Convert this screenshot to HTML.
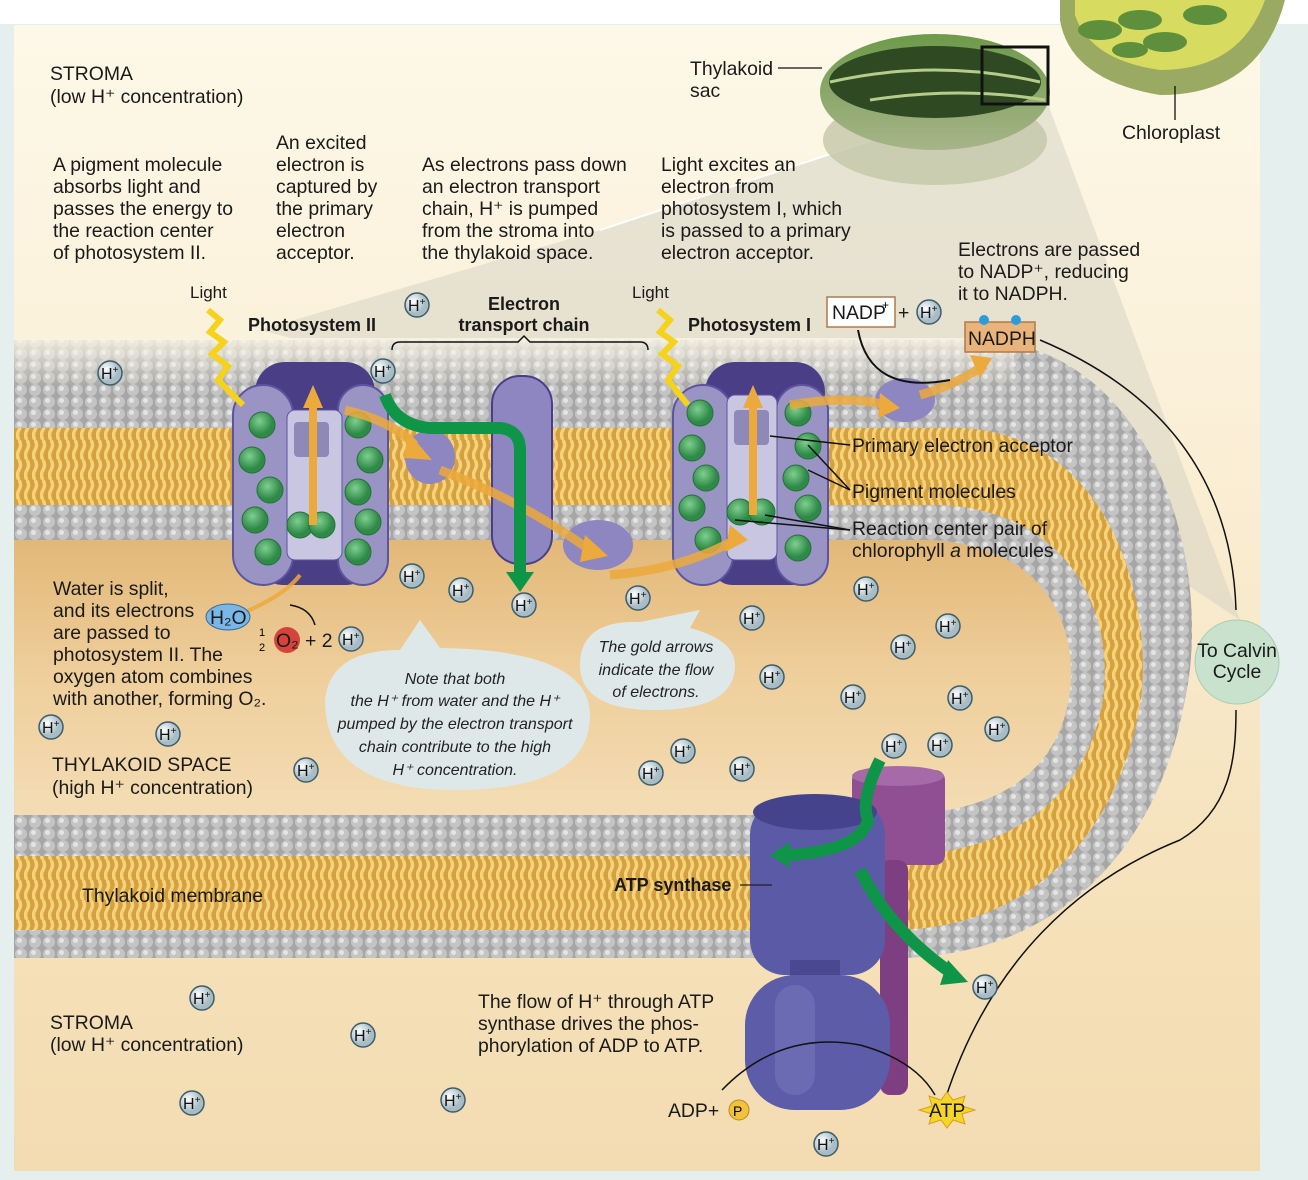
<!DOCTYPE html>
<html><head><meta charset="utf-8"><style>
html,body{margin:0;padding:0;background:#e4efee;}
svg{display:block;font-family:"Liberation Sans",sans-serif;}
.t{font-size:19.4px;fill:#1a1a1a;}
.b{font-weight:bold;font-size:18px;fill:#1a1a1a;}
.i{font-style:italic;font-size:16px;fill:#222;}
</style></head><body>
<svg id="s" width="1308" height="1180" viewBox="0 0 1308 1180">
<defs>
<linearGradient id="bg" x1="0" y1="0" x2="0" y2="1"><stop offset="0" stop-color="#fdf8e8"/><stop offset="0.3" stop-color="#fbf1da"/><stop offset="0.8" stop-color="#f5e0b8"/><stop offset="1" stop-color="#f3dcb2"/></linearGradient>
<linearGradient id="lum" x1="0" y1="0" x2="0" y2="1"><stop offset="0" stop-color="#e2b878"/><stop offset="0.5" stop-color="#efcf9c"/><stop offset="1" stop-color="#f3dcb4"/></linearGradient>
<linearGradient id="topfade" x1="0" y1="0" x2="0" y2="1"><stop offset="0" stop-color="#f8f3e4" stop-opacity="0.85"/><stop offset="1" stop-color="#f8f3e4" stop-opacity="0"/></linearGradient>
<pattern id="heads" width="14" height="12" patternUnits="userSpaceOnUse"><rect width="14" height="12" fill="#a6a6a6"/><circle cx="7" cy="6" r="6" fill="#c4c4c4"/><circle cx="5.5" cy="4.5" r="2.5" fill="#e4e4e4"/></pattern>
<pattern id="tails" width="8" height="20" patternUnits="userSpaceOnUse"><rect width="8" height="20" fill="#d4a040"/><path d="M3,0 q3,5 0,10 q-3,5 0,10" stroke="#f6d27a" stroke-width="3.5" fill="none"/></pattern>
<radialGradient id="hg" cx="0.35" cy="0.35"><stop offset="0" stop-color="#ffffff"/><stop offset="1" stop-color="#a7bcc4"/></radialGradient>
<radialGradient id="gg" cx="0.4" cy="0.35"><stop offset="0" stop-color="#7fcf8f"/><stop offset="1" stop-color="#2f8a48"/></radialGradient>
<linearGradient id="chl" x1="0" y1="0" x2="0" y2="1"><stop offset="0" stop-color="#6d9a4a"/><stop offset="1" stop-color="#a7b48a"/></linearGradient>
</defs>
<rect width="1308" height="1180" fill="#e4efee"/>
<rect x="0" y="0" width="1308" height="24" fill="#ffffff"/>
<rect x="14" y="25" width="1246" height="1146" fill="url(#bg)"/>

<polygon points="982,104 1048,104 1240,620 1150,560 260,330 600,230" fill="#cfcfc0" opacity="0.45"/>
<line x1="982" y1="104" x2="600" y2="230" stroke="#fff" stroke-width="2"/>

<g>
<ellipse cx="935" cy="140" rx="112" ry="45" fill="#c3c7a8" opacity="0.8"/>
<ellipse cx="935" cy="92" rx="115" ry="58" fill="url(#chl)"/>
<ellipse cx="935" cy="82" rx="106" ry="36" fill="#2f4a22"/>
<path d="M830,82 Q935,58 1040,82" stroke="#b6cc8a" stroke-width="3" fill="none"/>
<path d="M870,100 Q960,86 1045,100" stroke="#b6cc8a" stroke-width="3" fill="none"/>
<rect x="982" y="47" width="66" height="57" fill="none" stroke="#111" stroke-width="3"/>
</g>
<g>
<path d="M1060,20 Q1070,80 1160,95 Q1260,95 1285,0 L1060,0 Z" fill="#9aaa62"/>
<path d="M1075,15 Q1090,60 1160,70 Q1240,70 1265,0 L1075,0 Z" fill="#d7dc60"/>
<ellipse cx="1100" cy="30" rx="22" ry="10" fill="#5e8f3c"/><ellipse cx="1140" cy="20" rx="22" ry="10" fill="#5e8f3c"/><ellipse cx="1165" cy="42" rx="22" ry="10" fill="#5e8f3c"/><ellipse cx="1205" cy="15" rx="22" ry="10" fill="#5e8f3c"/><ellipse cx="1130" cy="50" rx="18" ry="8" fill="#5e8f3c"/>
<line x1="1175" y1="86" x2="1175" y2="120" stroke="#111" stroke-width="1.3"/>
</g>
<line x1="778" y1="68" x2="822" y2="68" stroke="#111" stroke-width="1.3"/>

<g>
<path d="M14,340 L980,340 C1150,345 1215,560 1185,700 C1155,860 1050,955 900,958 L14,958 Z" fill="url(#heads)"/>
<path d="M14,428 L960,428 C1100,433 1150,580 1142,690 C1128,810 1050,925 900,930 L14,930 Z" fill="url(#tails)"/>
<path d="M14,505 L940,505 C1060,510 1112,600 1104,690 C1094,780 1030,852 900,856 L14,856 Z" fill="url(#heads)"/>
<path d="M14,540 L930,540 C1040,545 1078,620 1070,690 C1062,762 1010,812 900,815 L14,815 Z" fill="url(#lum)"/>
<rect x="14" y="338" width="1000" height="50" fill="url(#topfade)"/>
<rect x="14" y="790" width="900" height="25" fill="#f3dcb4" opacity="0.5"/>
</g>

<g>
<rect x="255" y="362" width="120" height="60" rx="30" fill="#4a3f86"/>
<rect x="262" y="535" width="105" height="50" rx="20" fill="#4a3f86"/>
<rect x="233" y="385" width="60" height="200" rx="30" fill="#9a94c4" stroke="#5d54a0" stroke-width="2"/>
<rect x="338" y="385" width="50" height="200" rx="25" fill="#9a94c4" stroke="#5d54a0" stroke-width="2"/>
<rect x="287" y="410" width="55" height="150" rx="8" fill="#c8c6e0" stroke="#5d54a0"/>
<rect x="294" y="422" width="35" height="35" rx="4" fill="#8e89b8"/>
</g>
<g>
<ellipse cx="430" cy="457" rx="25" ry="27" fill="#8d86c0"/>
<rect x="492" y="376" width="60" height="188" rx="28" fill="#8d86c0" stroke="#4a3f86" stroke-width="2"/>
<ellipse cx="598" cy="545" rx="35" ry="25" fill="#8d86c0"/>
<ellipse cx="905" cy="400" rx="30" ry="22" fill="#8d86c0"/>
</g>
<g>
<rect x="705" y="362" width="120" height="60" rx="30" fill="#4a3f86"/>
<rect x="712" y="535" width="105" height="50" rx="20" fill="#4a3f86"/>
<rect x="673" y="385" width="60" height="200" rx="30" fill="#9a94c4" stroke="#5d54a0" stroke-width="2"/>
<rect x="776" y="385" width="52" height="200" rx="26" fill="#9a94c4" stroke="#5d54a0" stroke-width="2"/>
<rect x="727" y="395" width="50" height="165" rx="8" fill="#c8c6e0" stroke="#5d54a0"/>
<rect x="734" y="410" width="35" height="35" rx="4" fill="#8e89b8"/>
</g>
<g id="pig"></g>

<g>
<rect x="852" y="770" width="93" height="95" rx="10" fill="#8f4f92"/>
<ellipse cx="898" cy="776" rx="46" ry="10" fill="#a66aa8"/>
<rect x="880" y="860" width="28" height="235" rx="10" fill="#7e3f82"/>
<rect x="750" y="800" width="135" height="175" rx="35" fill="#5a5aa6"/>
<ellipse cx="815" cy="812" rx="62" ry="18" fill="#45438c"/>
<rect x="790" y="960" width="50" height="30" fill="#4a4890"/>
<rect x="745" y="975" width="145" height="135" rx="50" fill="#5c5ca8"/>
<rect x="775" y="985" width="40" height="110" rx="20" fill="#7474bb" opacity="0.6"/>
</g>
<line x1="740" y1="885" x2="772" y2="885" stroke="#222" stroke-width="1.2"/>

<g fill="none" stroke="#eca93c" stroke-width="9" opacity="0.85">
<path d="M345,410 Q390,420 415,445"/>
<path d="M440,470 Q520,500 590,550"/>
<path d="M610,575 Q680,570 735,540"/>
<path d="M790,405 Q850,395 885,405"/>
<path d="M920,395 Q955,385 985,365"/>
<path d="M245,612 Q285,595 300,575" stroke-width="4"/>
</g>
<g fill="#eca93c">
<polygon points="408,432 432,460 404,458"/><polygon points="585,535 608,556 580,562"/><polygon points="730,525 748,540 725,552"/><polygon points="880,393 900,408 878,418"/><polygon points="970,355 992,358 980,378"/>
<polygon points="303,408 323,408 313,385"/><polygon points="743,408 763,408 753,385"/>
<rect x="309" y="405" width="8" height="120"/><rect x="749" y="405" width="8" height="110"/>
</g>
<g fill="none" stroke="#f5d21c" stroke-width="6">
<path d="M208,310 l12,10 l-10,12 l14,10 l-12,12 l16,12 l-10,14 l25,25"/>
<path d="M658,310 l12,10 l-10,12 l14,10 l-12,12 l16,12 l-10,14 l20,25"/>
</g>
<g fill="none" stroke="#0f9548" stroke-width="12">
<path d="M385,395 Q395,425 430,428 L500,428 Q520,430 520,450 L520,575"/>
<path d="M880,760 Q860,800 868,820 Q860,850 790,855"/>
<path d="M860,870 Q890,930 950,972"/>
</g>
<g fill="#0f9548"><polygon points="506,572 534,572 520,592"/><polygon points="790,842 790,868 770,855"/><polygon points="948,960 968,982 940,985"/></g>

<g><rect x="827" y="297" width="68" height="30" fill="#fff" stroke="#b07a4a" stroke-width="1.5"/><text x="832" y="319" class="t" font-size="18">NADP</text><text x="882" y="309" font-size="12">+</text><text x="898" y="319" class="t">+</text></g>
<g><rect x="965" y="322" width="70" height="30" fill="#e8b47c" stroke="#b07a4a" stroke-width="1.5"/><text x="968" y="345" class="t" font-size="18">NADPH</text><circle cx="984" cy="320" r="5" fill="#2b9be0"/><circle cx="1016" cy="320" r="5" fill="#2b9be0"/></g>
<path d="M858,330 Q870,395 950,380" fill="none" stroke="#111" stroke-width="2"/>
<g fill="none" stroke="#111" stroke-width="1.5">
<path d="M1040,340 Q1230,420 1236,610"/>
<path d="M945,1100 C990,960 1080,880 1180,840 C1230,810 1236,760 1236,710"/>
<path d="M722,1090 Q780,1030 860,1045 Q915,1060 935,1095"/>
<line x1="770" y1="436" x2="850" y2="445"/><line x1="808" y1="445" x2="850" y2="490"/><line x1="808" y1="470" x2="850" y2="490"/><line x1="765" y1="515" x2="850" y2="530"/><line x1="735" y1="520" x2="850" y2="530"/>
<path d="M392,350 Q392,342 400,342 L518,342 L524,336 L530,342 L640,342 Q648,342 648,350"/>
</g>
<circle cx="1237" cy="662" r="42" fill="#c9e2cd" stroke="#a9cdb2"/>
<text x="1237" y="657" class="t" text-anchor="middle" font-size="17">To Calvin</text>
<text x="1237" y="678" class="t" text-anchor="middle" font-size="17">Cycle</text>

<ellipse cx="228" cy="617" rx="22" ry="13" fill="#7ab7e6" stroke="#2d6aa0"/><text x="210" y="624" class="t">H₂O</text>
<circle cx="287" cy="640" r="13" fill="#d5443a"/><text x="276" y="647" class="t" font-size="17">O₂</text>
<text x="259" y="636" font-size="11">1</text><text x="259" y="651" font-size="11">2</text><text x="305" y="647" class="t" font-size="17">+ 2</text>
<path d="M290,605 Q310,608 315,625" fill="none" stroke="#111" stroke-width="1.5"/>

<path d="M325,700 Q330,650 400,650 L420,620 L440,648 Q590,650 590,715 Q590,790 455,790 Q325,790 325,700 Z" fill="#dfe8e8"/>
<path d="M580,665 Q580,620 640,622 L700,610 L690,628 Q735,640 735,665 Q735,710 655,710 Q580,710 580,665 Z" fill="#dfe8e8"/>
<g text-anchor="middle">
<text x="455" y="684" class="i">Note that both</text><text x="455" y="706" class="i">the H⁺ from water and the H⁺</text><text x="455" y="729" class="i">pumped by the electron transport</text><text x="455" y="752" class="i">chain contribute to the high</text><text x="455" y="775" class="i">H⁺ concentration.</text>
<text x="656" y="652" class="i">The gold arrows</text><text x="656" y="675" class="i">indicate the flow</text><text x="656" y="697" class="i">of electrons.</text>
</g>
<text x="668" y="1117" class="t" font-size="18">ADP+</text><circle cx="739" cy="1110" r="10" fill="#f2c23c" stroke="#b58a1c"/><text x="733" y="1116" font-size="14">P</text>
<polygon points="947,1092 953,1100 965,1096 962,1106 975,1110 962,1114 965,1124 953,1120 947,1128 941,1120 929,1124 932,1114 919,1110 932,1106 929,1096 941,1100" fill="#f5d528" stroke="#d6a01c"/>
<text x="929" y="1117" class="t" font-size="17">ATP</text>

<g id="ions"></g>

<g class="t">
<text x="50" y="80">STROMA</text><text x="50" y="103">(low H⁺ concentration)</text>
<text x="690" y="75">Thylakoid</text><text x="690" y="97">sac</text>
<text x="1122" y="139">Chloroplast</text>
<text x="53" y="171">A pigment molecule</text><text x="53" y="193">absorbs light and</text><text x="53" y="215">passes the energy to</text><text x="53" y="237">the reaction center</text><text x="53" y="259">of photosystem II.</text>
<text x="276" y="149">An excited</text><text x="276" y="171">electron is</text><text x="276" y="193">captured by</text><text x="276" y="215">the primary</text><text x="276" y="237">electron</text><text x="276" y="259">acceptor.</text>
<text x="422" y="171">As electrons pass down</text><text x="422" y="193">an electron transport</text><text x="422" y="215">chain, H⁺ is pumped</text><text x="422" y="237">from the stroma into</text><text x="422" y="259">the thylakoid space.</text>
<text x="661" y="171">Light excites an</text><text x="661" y="193">electron from</text><text x="661" y="215">photosystem I, which</text><text x="661" y="237">is passed to a primary</text><text x="661" y="259">electron acceptor.</text>
<text x="958" y="256">Electrons are passed</text><text x="958" y="278">to NADP⁺, reducing</text><text x="958" y="300">it to NADPH.</text>
<text x="190" y="298" font-size="17">Light</text><text x="632" y="298" font-size="17">Light</text>
<text x="852" y="452">Primary electron acceptor</text><text x="852" y="498">Pigment molecules</text><text x="852" y="535">Reaction center pair of</text><text x="852" y="557">chlorophyll <tspan font-style="italic">a</tspan> molecules</text>
<text x="53" y="595">Water is split,</text><text x="53" y="617">and its electrons</text><text x="53" y="639">are passed to</text><text x="53" y="661">photosystem II. The</text><text x="53" y="683">oxygen atom combines</text><text x="53" y="705">with another, forming O₂.</text>
<text x="52" y="771">THYLAKOID SPACE</text><text x="52" y="794">(high H⁺ concentration)</text>
<text x="82" y="902">Thylakoid membrane</text>
<text x="50" y="1029">STROMA</text><text x="50" y="1051">(low H⁺ concentration)</text>
<text x="478" y="1008">The flow of H⁺ through ATP</text><text x="478" y="1030">synthase drives the phos-</text><text x="478" y="1052">phorylation of ADP to ATP.</text>
</g>
<text x="248" y="331" class="b">Photosystem II</text>
<text x="524" y="310" class="b" text-anchor="middle">Electron</text><text x="524" y="331" class="b" text-anchor="middle">transport chain</text>
<text x="688" y="331" class="b">Photosystem I</text>
<text x="614" y="891" class="b">ATP synthase</text>
</svg>
<script>
const ns="http://www.w3.org/2000/svg";
const ionX=[110,417,383,412,461,524,638,752,866,948,903,772,853,960,997,940,894,683,651,742,51,168,306,351,929,202,363,192,453,985,826];
const ionY=[373,305,371,576,590,605,598,618,589,626,647,677,697,698,729,745,746,751,773,769,727,734,770,639,312,998,1035,1103,1100,987,1144];
const g=document.getElementById('ions');
for(let k=0;k<ionX.length;k++){
 const c=document.createElementNS(ns,'circle');c.setAttribute('cx',ionX[k]);c.setAttribute('cy',ionY[k]);c.setAttribute('r',12);
 c.setAttribute('fill','url(#hg)');c.setAttribute('stroke','#3d5d6a');c.setAttribute('stroke-width','1.5');
 
 
 g.appendChild(c);
 const t=document.createElementNS(ns,'text');t.setAttribute('x',ionX[k]-9);t.setAttribute('y',ionY[k]+6);t.setAttribute('font-size','16');t.setAttribute('fill','#111');
 t.innerHTML='H<tspan font-size="10" dy="-6">+</tspan>';
 
 
 g.appendChild(t);
}
const pigX=[262,252,270,255,268,358,370,358,368,358,300,322,700,692,706,692,708,798,808,796,808,798,740,762];
const pigY=[425,460,490,520,552,425,460,492,522,552,525,525,413,448,478,508,540,413,446,478,508,548,512,512];
const pg=document.getElementById('pig');
for(let k=0;k<pigX.length;k++){
 const c=document.createElementNS(ns,'circle');c.setAttribute('cx',pigX[k]);c.setAttribute('cy',pigY[k]);c.setAttribute('r',13);
 c.setAttribute('fill','url(#gg)');c.setAttribute('stroke','#26703a');
 
 
 pg.appendChild(c);
}
</script>
</body></html>
